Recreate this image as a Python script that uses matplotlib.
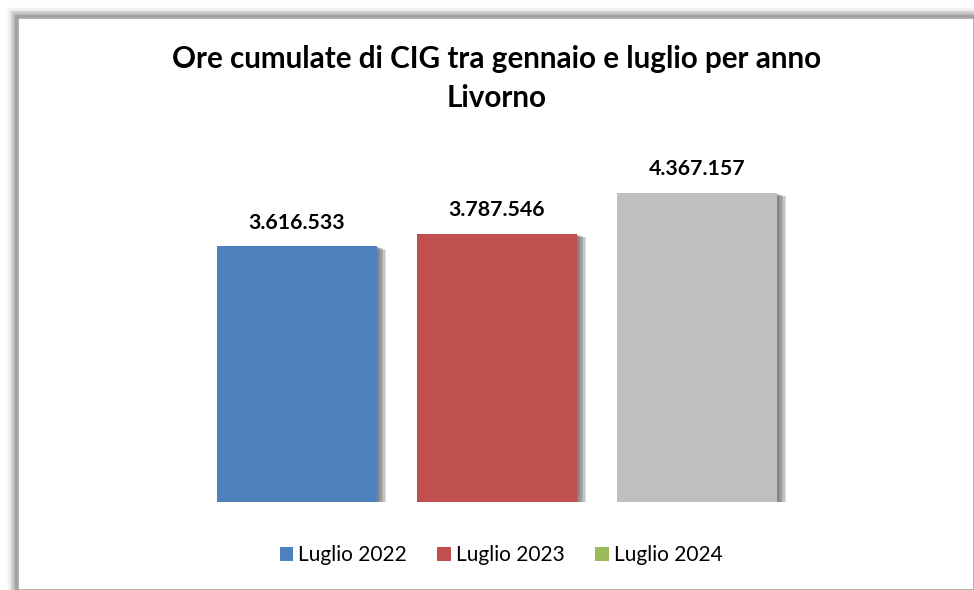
import matplotlib
matplotlib.use("Agg")
import matplotlib.pyplot as plt
import matplotlib.patheffects as pe
from matplotlib.patches import Rectangle, Patch

# dati
categorie = ["Luglio 2022", "Luglio 2023", "Luglio 2024"]
ore_cig = [3616533, 3787546, 4367157]
colori_barre = ["#4f81bd", "#c0504d", "#bfbfbf"]
colori_legenda = ["#4f81bd", "#c0504d", "#9bbb59"]
titolo = ["Ore cumulate di CIG tra gennaio e luglio per anno", "Livorno"]

plt.rcParams['font.family'] = ['Lato', 'DejaVu Sans']

W, H = 974, 590
fig = plt.figure(figsize=(W / 100, H / 100), dpi=100)

# cornice con ombra sfumata
for i, a in enumerate([0.04, 0.06, 0.09, 0.13, 0.18, 0.25, 0.35]):
    off = 10 - i * 1.3
    fig.patches.append(Rectangle(((17 - off) / W, 0), 2, (H - 17 + off) / H,
                                 transform=fig.transFigure, facecolor='#808080',
                                 alpha=a, edgecolor='none', zorder=0))
fig.patches.append(Rectangle((18 / W, 0), (W - 18) / W, (H - 18) / H,
                             transform=fig.transFigure, facecolor='white',
                             edgecolor='#a6a6a6', linewidth=1.2, zorder=1))

ax = fig.add_axes([197 / W, 88 / H, 600 / W, 354 / H])
ax.set_zorder(2)
ax.patch.set_alpha(0)

x = list(range(len(categorie)))
bars = ax.bar(x, ore_cig, width=0.8, color=colori_barre)
ombra = [pe.SimplePatchShadow(offset=(o, -o * 0.4), shadow_rgbFace='#505050', alpha=0.18)
         for o in (6.5, 5.5, 4.5, 3.5, 2.5, 1.5)]
for b in bars:
    b.set_path_effects(ombra + [pe.Normal()])

for xi, v in zip(x, ore_cig):
    lab = f"{v:,}".replace(",", ".")
    ax.annotate(lab, (xi, v), xytext=(0, 12.5), textcoords='offset points',
                ha='center', va='baseline', fontsize=15.3, fontweight='bold')

ax.set_xlim(-0.5, 2.5)
ax.set_ylim(0, 5000000)
ax.axis('off')

fig.text(497 / W, 1 - 68 / H, titolo[0], ha='center', va='baseline',
         fontsize=21.3, fontweight='bold', zorder=3)
fig.text(497 / W, 1 - 107 / H, titolo[1], ha='center', va='baseline',
         fontsize=21.3, fontweight='bold', zorder=3)

handles = [Patch(facecolor=c, edgecolor='none') for c in colori_legenda]
fig.legend(handles, categorie, loc='center', bbox_to_anchor=(501 / W, 1 - 555 / H),
           ncol=3, frameon=False, fontsize=15, handlelength=0.65, handleheight=0.65,
           handletextpad=0.25, columnspacing=1.45)

fig.savefig("out.png", dpi=100)
